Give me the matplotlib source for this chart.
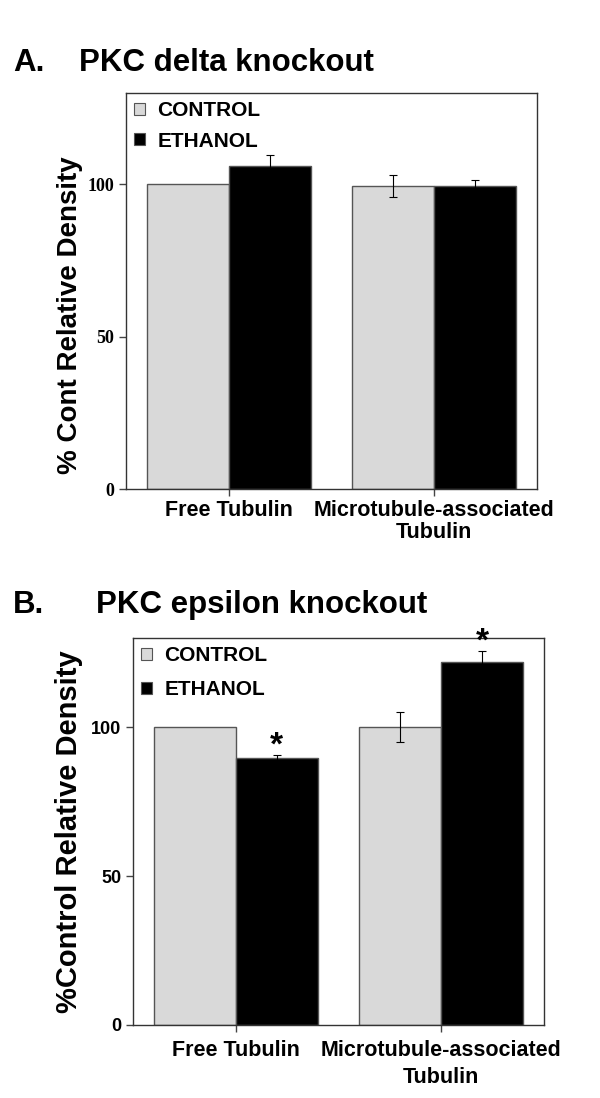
import numpy as np
import matplotlib.pyplot as plt
from matplotlib.patches import Patch

# Dados
categorias = ['Free Tubulin', 'Microtubule-associated\nTubulin']
legenda = ['CONTROL', 'ETHANOL']

# Painel A - PKC delta knockout
a_controle = [100.0, 99.5]
a_etanol = [106.2, 99.4]
a_erro_controle = [0.0, 3.5]
a_erro_etanol = [3.3, 2.0]

# Painel B - PKC epsilon knockout
b_controle = [100.0, 100.0]
b_etanol = [89.8, 121.9]
b_erro_controle = [0.0, 5.0]
b_erro_etanol = [1.0, 3.7]
b_signif = [True, True]

cinza = '#d9d9d9'
borda = '#555555'
w = 0.4

fig = plt.figure(figsize=(6.0, 10.98), dpi=100)

def painel(ax, controle, etanol, err_c, err_e, fonte_ticks, fs_ticks, fs_leg, esp_leg,
           ylabel, fs_ylab, esp_x, pad_x):
    x = np.arange(len(categorias))
    ax.bar(x - w/2, controle, w, color=cinza, edgecolor=borda, linewidth=1.0, zorder=2)
    ax.bar(x + w/2, etanol, w, color='black', edgecolor=borda, linewidth=1.0, zorder=2)
    for xi, v, e in zip(x - w/2, controle, err_c):
        if e > 0:
            ax.errorbar(xi, v, yerr=e, color='black', lw=0.8, capsize=3, capthick=0.8, zorder=3)
    for xi, v, e in zip(x + w/2, etanol, err_e):
        if e > 0:
            ax.errorbar(xi, v, yerr=e, color='black', lw=0.8, capsize=3, capthick=0.8, zorder=3)
    ax.set_xlim(-0.5, 1.5)
    ax.set_ylim(0, 130)
    ax.set_yticks([0, 50, 100])
    ax.set_xticks(x)
    ax.set_xticklabels(categorias, fontsize=15.5, fontweight='bold', family='Liberation Sans',
                       linespacing=esp_x)
    for lab in ax.get_yticklabels():
        lab.set_family(fonte_ticks)
        lab.set_fontweight('bold')
        lab.set_fontsize(fs_ticks)
    ax.tick_params(axis='both', direction='out', length=5, width=1, color='#444444')
    ax.tick_params(axis='x', pad=pad_x)
    for s in ax.spines.values():
        s.set_color('#333333')
        s.set_linewidth(1.0)
    ax.set_ylabel(ylabel, fontsize=fs_ylab, fontweight='bold', family='Liberation Sans', labelpad=6)
    handles = [Patch(facecolor=cinza, edgecolor=borda, linewidth=0.8),
               Patch(facecolor='black', edgecolor=borda, linewidth=0.8)]
    ax.legend(handles, legenda, loc='upper left', frameon=False,
              prop={'family': 'Liberation Sans', 'weight': 'bold', 'size': fs_leg},
              handlelength=0.5, handleheight=0.5, handletextpad=0.6,
              labelspacing=esp_leg, borderaxespad=0.1, borderpad=0.3)
    return x

# Painel A
axA = fig.add_axes([0.21, 0.5546, 0.685, 0.3607])
painel(axA, a_controle, a_etanol, a_erro_controle, a_erro_etanol,
       'Liberation Serif', 13, 15, 0.55, '% Cont Relative Density', 20, 1.05, 3)
axA.yaxis.set_label_coords(-0.105, 0.44)
fig.text(0.022, 0.943, 'A.', fontsize=22.5, fontweight='bold', family='Liberation Sans', va='center')
fig.text(0.132, 0.943, 'PKC delta knockout', fontsize=22.5, fontweight='bold', family='Liberation Sans', va='center')

# Painel B
axB = fig.add_axes([0.2217, 0.0665, 0.685, 0.3524])
xb = painel(axB, b_controle, b_etanol, b_erro_controle, b_erro_etanol,
            'Liberation Sans', 13, 15, 0.7, '%Control Relative Density', 21, 1.35, 6)
for xi, v, e, sig in zip(xb + w/2, b_etanol, b_erro_etanol, b_signif):
    if sig:
        axB.text(xi, v + e + 3.0, '*', ha='center', va='center', fontsize=24,
                 fontweight='bold', family='Liberation Sans', clip_on=False)
fig.text(0.022, 0.449, 'B.', fontsize=22.5, fontweight='bold', family='Liberation Sans', va='center')
fig.text(0.16, 0.449, 'PKC epsilon knockout', fontsize=22.5, fontweight='bold', family='Liberation Sans', va='center')

fig.savefig('out.png', dpi=100)
